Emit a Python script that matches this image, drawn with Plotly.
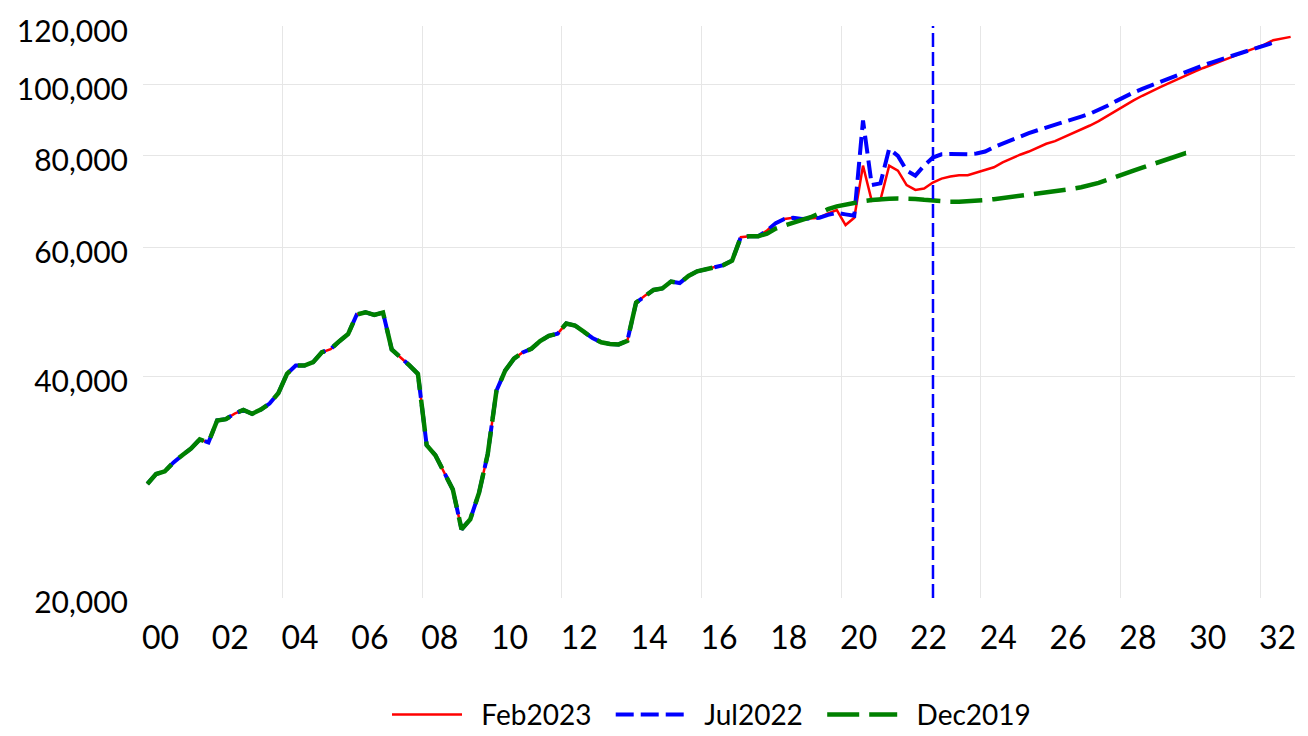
import plotly.graph_objects as go

# Quarterly categories 2000Q1 .. 2032Q4 (plotted at quarter centres)
start_year = 2000
n_quarters = 132
quarters = [start_year + 0.125 + 0.25 * i for i in range(n_quarters)]

# Shared history 2000Q1 .. 2017Q3
history = [
    28600, 29500, 29750, 30600,
    31300, 31950, 32880, 32570,
    34900, 35040, 35650, 36070,
    35640, 36100, 36800, 38000,
    40400, 41450, 41450, 41900,
    43220, 43650, 44750, 45750,
    48650, 49000, 48600, 48950,
    43600, 42600, 41500, 40400,
    32300, 31300, 29600, 28100,
    24800, 25600, 27800, 31400,
    38300, 40800, 42350, 43200,
    43700, 44750, 45500, 45800,
    47300, 47000, 46100, 45200,
    44600, 44350, 44300, 44800,
    50500, 51600, 52550, 52800,
    53950, 53700, 54900, 55700,
    56100, 56400, 56800, 57600,
    62000, 62200, 62200,
]

# From 2017Q4 onward
feb2023_tail = [
    63300,
    64800, 65650, 65870, 65650,
    65750, 65900, 66800, 67500,
    64400, 65900, 77600, 69500,
    69700, 77600, 76400, 73000,
    71900, 72200, 73600, 74500,
    75000, 75300, 75300, 75900,
    76600, 77200, 78400, 79400,
    80300, 81100, 82200, 83100,
    83800, 84800, 86000, 87000,
    88000, 89200, 90700, 92200,
    93800, 95200, 96600, 98000,
    99200, 100400, 101700, 102900,
    104200, 105400, 106600, 107700,
    108800, 110000, 111200, 112300,
    113400, 115000, 115600, 116200,
]

jul2022_tail = [
    63300,
    64800, 65650, 65870, 65650,
    65750, 65900, 66500, 66900,
    66600, 66300, 89400, 73000,
    73400, 81800, 80000, 76400,
    75200, 77600, 79600, 80400,
    80500, 80400, 80400, 80600,
    81100, 82250, 83200, 84100,
    85000, 85900, 86700, 87500,
    88300, 89100, 89800, 90500,
    91300, 92300, 93600, 95000,
    96400, 97600, 98700, 99800,
    100800, 101900, 103000, 104200,
    105300, 106300, 107300, 108300,
    109300, 110300, 111300, 112200,
    113200, 114100,
]

dec2019_tail = [
    62700,
    63700, 64300, 64800, 65400,
    66000, 66800, 67700, 68300,
    68700, 69100, 69400, 69650,
    69850, 69950, 70000, 70000,
    69900, 69700, 69500, 69400,
    69300, 69300, 69350, 69500,
    69650, 69850, 70100, 70300,
    70500, 70700, 70900, 71150,
    71450, 71800, 72150, 72500,
    72900, 73500, 74200, 75000,
    75700, 76400, 77100, 77800,
    78500, 79200, 80000, 80700,
    80700,
]

series_names = ["Feb2023", "Jul2022", "Dec2019"]
series_values = [history + feb2023_tail, history + jul2022_tail, history + dec2019_tail]
series_colors = ["#FF0000", "#0000FF", "#008000"]
series_widths = [2.5, 4, 4.5]
series_dash = ["solid", "18px,7px", "32px,10px"]

year_tick_vals = [y + 0.5 for y in range(2000, 2033, 2)]
year_tick_text = [f"{y % 100:02d}" for y in range(2000, 2033, 2)]
y_tick_vals = [20000, 40000, 60000, 80000, 100000, 120000]
y_tick_text = ["20,000", "40,000", "60,000", "80,000", "100,000", "120,000"]
marker_date = 2022.63  # Jul 2022 vertical marker

FONT = "Lato, 'Open Sans', sans-serif"
NB = "\u00a0"

fig = go.Figure()
for name, vals, col, w, d in zip(series_names, series_values, series_colors, series_widths, series_dash):
    fig.add_trace(go.Scatter(
        x=quarters[:len(vals)], y=vals, mode="lines",
        name=NB * 2 + name + NB * 2,
        line=dict(color=col, width=w, dash=d),
    ))

fig.add_shape(type="line", xref="x", yref="paper", x0=marker_date, x1=marker_date, y0=0, y1=1.0,
              line=dict(color="#0000FF", width=2.5, dash="14px,5px"))

# The page body adds an 8px offset; the figure extends slightly past the viewport bottom.
fig.update_layout(
    width=1300, height=744,
    margin=dict(l=135, r=13, t=18, b=151),
    plot_bgcolor="white", paper_bgcolor="white",
    font=dict(family=FONT, color="#000000"),
    showlegend=True,
    legend=dict(orientation="h", x=0.5, xanchor="center", y=-0.204, yanchor="middle",
                font=dict(size=28, family=FONT), itemwidth=70, traceorder="normal"),
    xaxis=dict(
        range=[2000, 2033], tickmode="array", tickvals=year_tick_vals, ticktext=year_tick_text,
        showgrid=False, zeroline=False, showline=False, automargin=False,
        ticks="outside", ticklen=12, tickcolor="rgba(0,0,0,0)",
        tickfont=dict(size=32, family=FONT), ticklabeloverflow="allow",
        minor=dict(tickmode="linear", tick0=2000, dtick=4, showgrid=True,
                   gridcolor="#e6e6e6", gridwidth=1, ticks=""),
    ),
    yaxis=dict(
        type="log", range=[4.30100, 5.08000], tickmode="array",
        tickvals=y_tick_vals, ticktext=y_tick_text,
        showgrid=True, gridcolor="#e6e6e6", gridwidth=1, zeroline=False, showline=False,
        automargin=False, ticklabeloverflow="allow", ticklabelshift=5,
        ticks="outside", ticklen=8, tickcolor="rgba(0,0,0,0)",
        tickfont=dict(size=30, family=FONT),
    ),
)

fig.write_html("out.html")
